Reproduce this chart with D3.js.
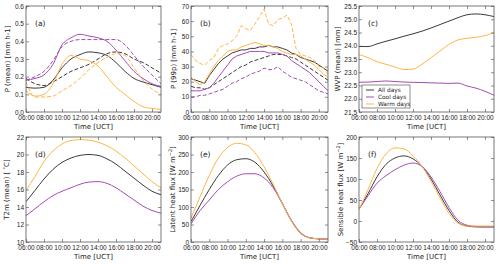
<!DOCTYPE html>
<html>
<head>
<meta charset="utf-8">
<script src="https://cdn.jsdelivr.net/npm/d3@7"></script>
<style>
  body { margin: 0; background: #fff; }
  svg { font-family: "DejaVu Sans", sans-serif; }
  .tick text { font-size: 6.5px; fill: #222; }
  .axis-label { font-size: 7px; fill: #222; }
</style>
</head>
<body>
<svg id="chart" width="500" height="264"></svg>
<script>
const width = 500;
const height = 264;

// time grids (hours UTC)
const hours = d3.range(6, 21.01, 1);
const halfHours = d3.range(6, 21.01, 0.5);
const xTickValues = [6, 8, 10, 12, 14, 16, 18, 20];

const seriesNames = ["All days", "Cool days", "Warm days"];
const colors = { all: "#3a3a3a", cool: "#a64bb5", warm: "#ffb547" };

// (a) P (mean), hourly
const aAllSolid  = [0.14, 0.135, 0.14, 0.18, 0.25, 0.30, 0.325, 0.34, 0.335, 0.32, 0.28, 0.23, 0.19, 0.17, 0.155, 0.14];
const aAllDash   = [0.19, 0.16, 0.15, 0.17, 0.20, 0.23, 0.25, 0.27, 0.30, 0.33, 0.34, 0.33, 0.30, 0.28, 0.25, 0.22];
const aCoolSolid = [0.18, 0.19, 0.21, 0.27, 0.38, 0.42, 0.44, 0.43, 0.42, 0.40, 0.35, 0.29, 0.23, 0.19, 0.16, 0.145];
const aCoolDash  = [0.18, 0.20, 0.23, 0.29, 0.37, 0.40, 0.41, 0.41, 0.41, 0.41, 0.41, 0.38, 0.32, 0.26, 0.21, 0.16];
const aWarmSolid = [0.12, 0.09, 0.10, 0.16, 0.27, 0.32, 0.30, 0.29, 0.26, 0.20, 0.14, 0.10, 0.06, 0.03, 0.02, 0.015];
const aWarmDash  = [0.17, 0.085, 0.085, 0.09, 0.12, 0.15, 0.19, 0.24, 0.28, 0.31, 0.33, 0.32, 0.25, 0.18, 0.13, 0.10];

// (b) P (99p), half-hourly
const bAllSolid  = [22, 21, 20, 19, 24, 28, 32, 35, 37, 39, 40, 41, 41, 42, 42, 43, 43, 44, 43, 43, 42, 41, 39, 38, 36, 35, 34, 33, 31, 29, 27];
const bAllDash   = [17, 16, 16, 15, 16, 18, 20, 22, 24, 26, 28, 30, 31, 33, 34, 35, 36, 37, 38, 38, 38, 37, 36, 35, 33, 31, 29, 27, 25, 23, 21];
const bCoolSolid = [14, 14, 14, 15, 16, 19, 23, 27, 31, 35, 37, 38, 39, 40, 40, 40, 40, 39, 39, 39, 38, 37, 34, 32, 30, 28, 26, 23, 20, 17, 14];
const bCoolDash  = [10, 10, 11, 11, 12, 13, 14, 15, 17, 19, 20, 22, 23, 25, 26, 27, 29, 28, 28, 30, 27, 25, 23, 22, 21, 20, 18, 16, 14, 13, 12];
const bWarmSolid = [23, 20, 18, 20, 25, 30, 34, 37, 40, 41, 41, 43, 44, 45, 46, 45, 44, 44, 43, 42, 40, 39, 38, 38, 37, 35, 33, 31, 28, 25, 23];
const bWarmDash  = [38, 34, 32, 31, 34, 36, 42, 44, 45, 47, 50, 57, 55, 54, 58, 63, 68, 58, 57, 61, 62, 64, 58, 42, 38, 37, 36, 34, 30, 29, 25];

// (c) WVP (mean), hourly
const cAll  = [23.97, 23.97, 24.07, 24.17, 24.26, 24.36, 24.45, 24.55, 24.67, 24.80, 24.93, 25.06, 25.17, 25.20, 25.17, 25.10];
const cCool = [22.62, 22.63, 22.65, 22.67, 22.65, 22.63, 22.62, 22.61, 22.60, 22.59, 22.58, 22.59, 22.48, 22.40, 22.28, 22.13];
const cWarm = [23.67, 23.55, 23.40, 23.30, 23.20, 23.10, 23.12, 23.30, 23.55, 23.80, 24.05, 24.22, 24.28, 24.32, 24.38, 24.50];

// (d) T2m (mean), hourly
const dAll  = [14.6, 15.9, 17.2, 18.3, 19.1, 19.6, 19.9, 20.0, 19.9, 19.5, 18.9, 18.1, 17.3, 16.5, 15.8, 15.4];
const dCool = [13.0, 13.8, 14.6, 15.3, 15.8, 16.2, 16.6, 16.85, 16.9, 16.7, 16.2, 15.5, 14.8, 14.1, 13.6, 13.3];
const dWarm = [15.9, 17.5, 19.2, 20.4, 21.2, 21.6, 21.7, 21.65, 21.4, 21.0, 20.4, 19.6, 18.7, 17.8, 16.9, 16.2];

// (e) latent heat flux, hourly
const eAll  = [58, 105, 150, 190, 220, 235, 238, 228, 200, 160, 110, 60, 25, 12, 9, 8];
const eCool = [52, 90, 120, 150, 172, 188, 195, 195, 183, 155, 110, 62, 27, 12, 9, 8];
const eWarm = [68, 130, 190, 240, 270, 282, 278, 255, 215, 165, 110, 60, 25, 12, 9, 8];

// (f) sensible heat flux, hourly
const fAll  = [28, 65, 105, 135, 150, 155, 148, 130, 100, 62, 25, -3, -12, -14, -14, -14];
const fCool = [28, 60, 90, 108, 122, 133, 138, 130, 105, 70, 32, 2, -10, -13, -14, -14];
const fWarm = [27, 75, 125, 160, 174, 172, 155, 130, 95, 55, 18, -5, -12, -12, -12, -12];

const svg = d3.select("#chart");

const fmtTime = (h) => String(h).padStart(2, "0") + ":00";

// draw one subplot
function panel(o) {
  const x = d3.scaleLinear().domain([6, 21]).range([o.x0, o.x1]);
  const y = d3.scaleLinear().domain(o.yDomain).range([o.y1, o.y0]);
  const g = svg.append("g");

  const clipId = "clip-" + o.tag;
  g.append("clipPath").attr("id", clipId)
    .append("rect")
    .attr("x", o.x0).attr("y", o.y0)
    .attr("width", o.x1 - o.x0).attr("height", o.y1 - o.y0);

  const lines = g.append("g").attr("clip-path", `url(#${clipId})`);
  o.series.forEach((s) => {
    const line = d3.line()
      .x((d, i) => x(s.t[i]))
      .y((d) => y(d))
      .curve(s.smooth ? d3.curveMonotoneX : d3.curveLinear);
    lines.append("path")
      .datum(s.values)
      .attr("fill", "none")
      .attr("stroke", s.color)
      .attr("stroke-width", 1)
      .attr("stroke-dasharray", s.dash ? "4,2" : null)
      .attr("d", line);
  });

  // ticks on all four sides, pointing in
  const bottom = g.append("g").attr("transform", `translate(0,${o.y1})`)
    .call(d3.axisBottom(x).tickValues(xTickValues).tickFormat(fmtTime)
      .tickSizeInner(-3).tickSizeOuter(0).tickPadding(3));
  const top = g.append("g").attr("transform", `translate(0,${o.y0})`)
    .call(d3.axisTop(x).tickValues(xTickValues).tickFormat("")
      .tickSizeInner(-3).tickSizeOuter(0));
  const left = g.append("g").attr("transform", `translate(${o.x0},0)`)
    .call(d3.axisLeft(y).tickValues(o.yTicks).tickFormat(o.yFormat)
      .tickSizeInner(-3).tickSizeOuter(0).tickPadding(2));
  const right = g.append("g").attr("transform", `translate(${o.x1},0)`)
    .call(d3.axisRight(y).tickValues(o.yTicks).tickFormat("")
      .tickSizeInner(-3).tickSizeOuter(0));
  [bottom, top, left, right].forEach((a) => {
    a.select(".domain").remove();
    a.selectAll(".tick line").attr("stroke", "#444").attr("stroke-width", 0.6);
  });

  g.append("rect")
    .attr("x", o.x0).attr("y", o.y0)
    .attr("width", o.x1 - o.x0).attr("height", o.y1 - o.y0)
    .attr("fill", "none").attr("stroke", "#555").attr("stroke-width", 0.8);

  // panel tag
  g.append("text")
    .attr("x", o.x0 + 9).attr("y", o.y0 + 20)
    .attr("font-size", 7.5).attr("fill", "#222")
    .text(`(${o.tag})`);

  // x label
  g.append("text")
    .attr("class", "axis-label")
    .attr("x", (o.x0 + o.x1) / 2).attr("y", o.y1 + 17)
    .attr("text-anchor", "middle")
    .text("Time [UCT]");

  // y label
  const yl = g.append("text")
    .attr("class", "axis-label")
    .attr("transform", `translate(${o.x0 - o.labelOffset},${(o.y0 + o.y1) / 2}) rotate(-90)`)
    .attr("text-anchor", "middle");
  yl.append("tspan").text(o.yLabel[0]);
  if (o.yLabel.length > 1) {
    yl.append("tspan").attr("font-size", 5).attr("dy", -2.5).text(o.yLabel[1]);
    yl.append("tspan").attr("dy", 2.5).text(o.yLabel[2]);
  }
  return { x, y, g };
}

const cols = [[26, 161], [191, 328], [359, 494]];
const rows = [[6, 112], [137, 242]];

const fmt1 = d3.format(".1f");
const fmt0 = d3.format("d");

panel({
  tag: "a", x0: cols[0][0], x1: cols[0][1], y0: rows[0][0], y1: rows[0][1],
  yDomain: [0, 0.6], yTicks: d3.range(0, 0.61, 0.1), yFormat: fmt1,
  yLabel: ["P (mean) [mm h-1]"], labelOffset: 16.5,
  series: [
    { t: hours, values: aAllSolid, color: colors.all, smooth: true },
    { t: hours, values: aAllDash, color: colors.all, dash: true, smooth: true },
    { t: hours, values: aCoolSolid, color: colors.cool, smooth: true },
    { t: hours, values: aCoolDash, color: colors.cool, dash: true, smooth: true },
    { t: hours, values: aWarmSolid, color: colors.warm, smooth: true },
    { t: hours, values: aWarmDash, color: colors.warm, dash: true, smooth: true }
  ]
});

panel({
  tag: "b", x0: cols[1][0], x1: cols[1][1], y0: rows[0][0], y1: rows[0][1],
  yDomain: [0, 70], yTicks: d3.range(0, 71, 10), yFormat: fmt0,
  yLabel: ["P (99p) [mm h-1]"], labelOffset: 15.5,
  series: [
    { t: halfHours, values: bAllSolid, color: colors.all },
    { t: halfHours, values: bAllDash, color: colors.all, dash: true },
    { t: halfHours, values: bCoolSolid, color: colors.cool },
    { t: halfHours, values: bCoolDash, color: colors.cool, dash: true },
    { t: halfHours, values: bWarmSolid, color: colors.warm },
    { t: halfHours, values: bWarmDash, color: colors.warm, dash: true }
  ]
});

panel({
  tag: "c", x0: cols[2][0], x1: cols[2][1], y0: rows[0][0], y1: rows[0][1],
  yDomain: [21.5, 25.5], yTicks: d3.range(21.5, 25.51, 0.5), yFormat: fmt1,
  yLabel: ["WVP (mean) [mm]"], labelOffset: 19.5,
  series: [
    { t: hours, values: cAll, color: colors.all, smooth: true },
    { t: hours, values: cCool, color: colors.cool, smooth: true },
    { t: hours, values: cWarm, color: colors.warm, smooth: true }
  ]
});

panel({
  tag: "d", x0: cols[0][0], x1: cols[0][1], y0: rows[1][0], y1: rows[1][1],
  yDomain: [10, 22], yTicks: d3.range(10, 22.1, 2), yFormat: fmt0,
  yLabel: ["T2m (mean) [ ", "°", "C]"], labelOffset: 17,
  series: [
    { t: hours, values: dAll, color: colors.all, smooth: true },
    { t: hours, values: dCool, color: colors.cool, smooth: true },
    { t: hours, values: dWarm, color: colors.warm, smooth: true }
  ]
});

panel({
  tag: "e", x0: cols[1][0], x1: cols[1][1], y0: rows[1][0], y1: rows[1][1],
  yDomain: [0, 300], yTicks: d3.range(0, 301, 50), yFormat: fmt0,
  yLabel: ["Latent heat flux [W m", "−2", "]"], labelOffset: 16.5,
  series: [
    { t: hours, values: eAll, color: colors.all, smooth: true },
    { t: hours, values: eCool, color: colors.cool, smooth: true },
    { t: hours, values: eWarm, color: colors.warm, smooth: true }
  ]
});

panel({
  tag: "f", x0: cols[2][0], x1: cols[2][1], y0: rows[1][0], y1: rows[1][1],
  yDomain: [-50, 200], yTicks: d3.range(-50, 201, 50), yFormat: fmt0,
  yLabel: ["Sensible heat flux [W m", "−2", "]"], labelOffset: 16.5,
  series: [
    { t: hours, values: fAll, color: colors.all, smooth: true },
    { t: hours, values: fCool, color: colors.cool, smooth: true },
    { t: hours, values: fWarm, color: colors.warm, smooth: true }
  ]
});

// legend in panel (c)
const legend = svg.append("g").attr("transform", "translate(362,85)");
legend.append("rect")
  .attr("width", 48).attr("height", 23)
  .attr("fill", "#fff").attr("stroke", "#444").attr("stroke-width", 0.6);
[colors.all, colors.cool, colors.warm].forEach((c, i) => {
  const row = legend.append("g").attr("transform", `translate(0,${5 + i * 7})`);
  row.append("line").attr("x1", 4).attr("x2", 12).attr("stroke", c).attr("stroke-width", 1);
  row.append("text").attr("x", 16).attr("y", 2.2)
    .attr("font-size", 5.8).attr("fill", "#222")
    .text(seriesNames[i]);
});
</script>
</body>
</html>
